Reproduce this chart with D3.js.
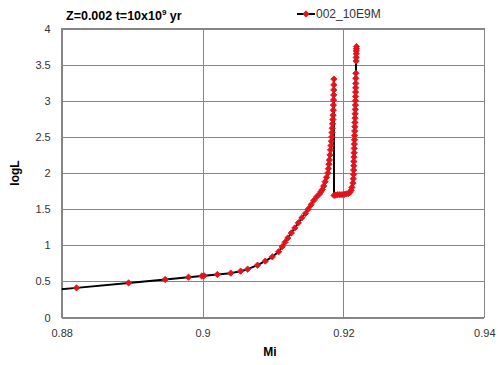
<!DOCTYPE html>
<html><head><meta charset="utf-8">
<script src="https://cdn.jsdelivr.net/npm/d3@7"></script>
<style>body{margin:0;background:#fff}svg{display:block}</style>
</head><body>
<script>
const titleText = "Z=0.002 t=10x10";
const seriesName = "002_10E9M";
const xLabel = "Mi";
const yLabel = "logL";
const xTicks = [0.88, 0.9, 0.92, 0.94];
const yTicks = [0, 0.5, 1, 1.5, 2, 2.5, 3, 3.5, 4];

const mass = [
 0.8745, 0.8821, 0.8895, 0.8947, 0.8980, 0.8999, 0.9002, 0.9021, 0.9040, 0.9054,
 0.9064, 0.9078, 0.9089, 0.9099, 0.9108, 0.9113, 0.9117, 0.9121, 0.9126, 0.9131,
 0.9136, 0.9141, 0.9146, 0.9150, 0.9154, 0.9158, 0.9162, 0.9166, 0.9168, 0.9170,
 0.9172, 0.9174, 0.9176, 0.9178, 0.91787, 0.91794, 0.9180, 0.9181, 0.91817, 0.91823,
 0.91829, 0.91834, 0.91838, 0.91842, 0.91846, 0.9185, 0.91853, 0.91856, 0.91858, 0.9186,
 0.91862, 0.91863, 0.91864, 0.91865,
 0.91866, 0.9189, 0.9192, 0.9195, 0.9198, 0.9201, 0.9204, 0.9207, 0.9209, 0.9211,
 0.9212, 0.92135, 0.9214, 0.92143, 0.92145, 0.92147, 0.92148, 0.9215, 0.92152, 0.92153,
 0.92155, 0.92157, 0.92158, 0.9216, 0.92162, 0.92163, 0.92165, 0.92166, 0.92168, 0.9217,
 0.92171, 0.92172, 0.92173, 0.92174, 0.92175, 0.92176, 0.92177,
 0.9218, 0.92181, 0.92182, 0.92183, 0.92184, 0.92185
];
const logL = [
 0.345, 0.410, 0.479, 0.526, 0.558, 0.574, 0.578, 0.595, 0.614, 0.641,
 0.669, 0.724, 0.780, 0.840, 0.910, 0.98, 1.04, 1.10, 1.17, 1.24,
 1.31, 1.38, 1.44, 1.50, 1.56, 1.62, 1.67, 1.71, 1.74, 1.77,
 1.82, 1.88, 1.94, 2.00, 2.06, 2.12, 2.18, 2.25, 2.32, 2.38,
 2.44, 2.50, 2.56, 2.62, 2.68, 2.74, 2.80, 2.87, 2.94, 3.01,
 3.08, 3.15, 3.22, 3.30,
 1.69, 1.695, 1.70, 1.70, 1.70, 1.705, 1.71, 1.715, 1.73, 1.76,
 1.80, 1.86, 1.92, 1.98, 2.04, 2.10, 2.16, 2.22, 2.28, 2.34,
 2.40, 2.46, 2.52, 2.58, 2.64, 2.70, 2.76, 2.82, 2.88, 2.94,
 3.00, 3.06, 3.12, 3.18, 3.24, 3.31, 3.38,
 3.55, 3.60, 3.65, 3.69, 3.72, 3.75
];

const W = 500, H = 365;
const pl = 61.7, pr = 484.3, pt = 28.5, pb = 317.5;
const gridColor = "#868686", lineColor = "#000", markColor = "#e0141c", textColor = "#333";
const font = "'Liberation Sans', Arial, sans-serif";

const svg = d3.select("body").append("svg").attr("width", W).attr("height", H)
  .style("font-family", font);

const x = d3.scaleLinear().domain([0.88, 0.94]).range([pl, pr]);
const y = d3.scaleLinear().domain([0, 4]).range([pb, pt]);

// gridlines
const xAxis = d3.axisBottom(x).tickValues(xTicks).tickSize(-(pb - pt)).tickPadding(10)
  .tickFormat(d => d3.format("")(+d.toFixed(2)));
const yAxis = d3.axisLeft(y).tickValues(yTicks).tickSize(-(pr - pl)).tickPadding(11)
  .tickFormat(d => String(d));

const gx = svg.append("g").attr("transform", `translate(0,${pb})`).call(xAxis);
const gy = svg.append("g").attr("transform", `translate(${pl},0)`).call(yAxis);
[gx, gy].forEach(g => {
  g.select(".domain").remove();
  g.selectAll(".tick line").attr("stroke", gridColor).attr("stroke-width", 1).attr("shape-rendering", "crispEdges");
  g.selectAll(".tick text").attr("fill", textColor).style("font-size", "11px").style("font-family", font);
});
gx.selectAll(".tick text").attr("dy", "0.9em");

svg.append("rect").attr("x", pl).attr("y", pt).attr("width", pr - pl).attr("height", pb - pt)
  .attr("fill", "none").attr("stroke", gridColor).attr("shape-rendering", "crispEdges");

// clip
svg.append("clipPath").attr("id", "clip").append("rect")
  .attr("x", pl).attr("y", pt).attr("width", pr - pl).attr("height", pb - pt);

const pts = mass.map((m, i) => [m, logL[i]]);
const line = d3.line().x(d => x(d[0])).y(d => y(d[1]));

svg.append("path").datum(pts).attr("d", line).attr("clip-path", "url(#clip)")
  .attr("fill", "none").attr("stroke", lineColor).attr("stroke-width", 2).attr("stroke-linejoin", "round");

const diamond = d3.symbol().type(d3.symbolSquare).size(20);
svg.append("g").attr("clip-path", "url(#clip)").selectAll("path.m")
  .data(pts.filter(d => d[0] >= 0.88)).join("path").attr("class", "m")
  .attr("d", diamond)
  .attr("transform", d => `translate(${x(d[0])},${y(d[1])}) rotate(45)`)
  .attr("fill", markColor).attr("stroke", markColor).attr("stroke-width", 0.8);

// title
const t = svg.append("text").attr("x", 66).attr("y", 20).attr("fill", "#000")
  .style("font-size", "12.5px").style("font-weight", "bold").text(titleText);
t.append("tspan").attr("dy", -5).style("font-size", "8px").text("9");
t.append("tspan").attr("dy", 5).text(" yr");

// legend
svg.append("line").attr("x1", 297).attr("x2", 315).attr("y1", 14).attr("y2", 14)
  .attr("stroke", lineColor).attr("stroke-width", 2);
svg.append("path").attr("d", diamond).attr("transform", "translate(306,14) rotate(45)")
  .attr("fill", markColor).attr("stroke", markColor).attr("stroke-width", 0.8);
svg.append("text").attr("x", 316).attr("y", 18).attr("fill", textColor)
  .style("font-size", "12px").text(seriesName);

// axis titles
svg.append("text").attr("x", (pl + pr) / 2 - 3).attr("y", 356).attr("text-anchor", "middle")
  .attr("fill", "#000").style("font-size", "12px").style("font-weight", "bold").text(xLabel);
svg.append("text").attr("transform", "translate(19,173) rotate(-90)").attr("text-anchor", "middle")
  .attr("fill", "#000").style("font-size", "12px").style("font-weight", "bold").text(yLabel);
</script>
</body></html>
